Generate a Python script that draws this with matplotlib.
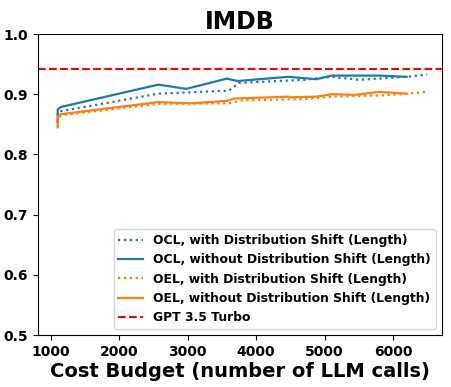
import numpy as np
import matplotlib
matplotlib.use("Agg")
import matplotlib.pyplot as plt

# OCL, with distribution shift (dotted blue)
ocl_shift_x = [1100, 1100, 1150, 2570, 3600, 3750, 4700, 5100, 5500, 6200, 6500]
ocl_shift_y = [0.855, 0.870, 0.872, 0.901, 0.906, 0.919, 0.924, 0.929, 0.924, 0.929, 0.933]

# OCL, without distribution shift (solid blue)
ocl_x = [1100, 1100, 1150, 2570, 2980, 3570, 3730, 4470, 4880, 5100, 5800, 6200]
ocl_y = [0.854, 0.875, 0.879, 0.916, 0.909, 0.926, 0.922, 0.929, 0.925, 0.931, 0.931, 0.929]

# OEL, with distribution shift (dotted orange)
oel_shift_x = [1100, 1100, 1200, 2570, 3600, 3800, 4700, 5100, 5800, 6200, 6500]
oel_shift_y = [0.845, 0.862, 0.866, 0.884, 0.885, 0.890, 0.892, 0.896, 0.898, 0.901, 0.904]

# OEL, without distribution shift (solid orange)
oel_x = [1100, 1100, 1150, 2570, 3050, 3570, 3680, 4470, 4500, 4880, 5100, 5450, 5800, 6200]
oel_y = [0.845, 0.864, 0.867, 0.887, 0.885, 0.889, 0.893, 0.896, 0.895, 0.896, 0.900, 0.899, 0.904, 0.901]

gpt35 = 0.942

fig = plt.figure(figsize=(4.51, 3.87), dpi=100)
ax = fig.add_axes([0.084, 0.134, 0.896, 0.778])

ax.plot(ocl_shift_x, ocl_shift_y, ':', color='#1f77b4', lw=1.6,
        label='OCL, with Distribution Shift (Length)')
ax.plot(ocl_x, ocl_y, '-', color='#1f77b4', lw=1.6,
        label='OCL, without Distribution Shift (Length)')
ax.plot(oel_shift_x, oel_shift_y, ':', color='#ff7f0e', lw=1.6,
        label='OEL, with Distribution Shift (Length)')
ax.plot(oel_x, oel_y, '-', color='#ff7f0e', lw=1.6,
        label='OEL, without Distribution Shift (Length)')
ax.axhline(gpt35, color='red', ls='--', lw=1.5, label='GPT 3.5 Turbo')

ax.set_ylim(0.5, 1.0)
ax.set_xlim(810, 6716)
ax.set_xticks([1000, 2000, 3000, 4000, 5000, 6000])
ax.set_yticks([0.5, 0.6, 0.7, 0.8, 0.9, 1.0])
for lab in ax.get_xticklabels() + ax.get_yticklabels():
    lab.set_fontweight('bold')
    lab.set_fontsize(10)

ax.set_title('IMDB', fontsize=17, fontweight='bold', pad=4)
ax.set_xlabel('Cost Budget (number of LLM calls)', fontsize=14, fontweight='bold', labelpad=2)

ax.legend(loc='lower right', prop={'weight': 'bold', 'size': 8.9})

fig.savefig('out.png', dpi=100)
